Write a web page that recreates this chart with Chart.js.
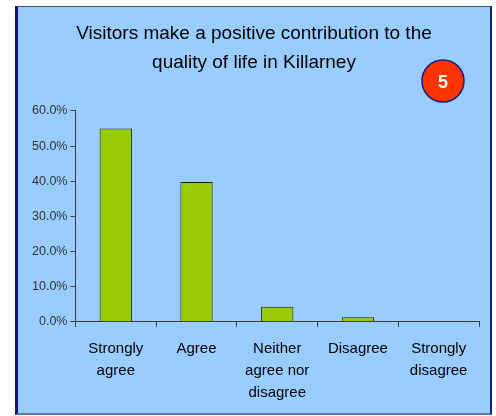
<!DOCTYPE html>
<html>
<head>
<meta charset="utf-8">
<script src="https://cdn.jsdelivr.net/npm/chart.js@4"></script>
<style>
  html, body { margin: 0; padding: 0; background: #ffffff; }
  #wrap { position: relative; width: 496px; height: 416px; }
  #panel {
    position: absolute; left: 15px; top: 6px; width: 472px; height: 406px;
    background: #99ccff;
    border-left: 3px solid #141478;
    border-right: 2px solid #1a1a80;
    border-top: 1px solid #4a4a6a;
    border-bottom: 2px solid #5a78b0;
  }
  canvas { position: absolute; left: 0; top: 0; }
</style>
</head>
<body>
<div id="wrap">
  <div id="panel"></div>
  <canvas id="chart" width="496" height="416"></canvas>
</div>
<script>
const categories = [
  ['Strongly', 'agree'],
  'Agree',
  ['Neither', 'agree nor', 'disagree'],
  'Disagree',
  ['Strongly', 'disagree']
];
const shares = [55.0, 39.8, 4.3, 1.3, 0.0];
const yTicks = [0, 10, 20, 30, 40, 50, 60];
const titleLines = ['Visitors make a positive contribution to the', 'quality of life in Killarney'];
const badgeText = '5';

const fontFamily = '"Liberation Sans", Arial, sans-serif';
const axisColor = '#3c3c3c';

// badge: red circle with the slide number
const badgePlugin = {
  id: 'badge',
  afterDraw(chart) {
    const ctx = chart.ctx;
    ctx.save();
    ctx.beginPath();
    ctx.arc(443, 81, 21, 0, Math.PI * 2);
    ctx.fillStyle = '#ff3300';
    ctx.fill();
    ctx.lineWidth = 1.5;
    ctx.strokeStyle = '#1a1a80';
    ctx.stroke();
    ctx.fillStyle = '#ffffff';
    ctx.font = 'bold 18px ' + fontFamily;
    ctx.textAlign = 'center';
    ctx.textBaseline = 'middle';
    ctx.fillText(badgeText, 443, 83);
    ctx.restore();
  }
};

window.addEventListener('DOMContentLoaded', () => {
  const ctx = document.getElementById('chart').getContext('2d');
  new Chart(ctx, {
    type: 'bar',
    data: {
      labels: categories,
      datasets: [{
        data: shares,
        backgroundColor: '#99cc00',
        borderColor: '#22220c',
        borderWidth: 1,
        barPercentage: 0.4,
        categoryPercentage: 1.0
      }]
    },
    options: {
      responsive: false,
      animation: false,
      layout: { padding: { left: 29, right: 17, top: 0, bottom: 1 } },
      plugins: {
        legend: { display: false },
        tooltip: { enabled: false },
        title: {
          display: true,
          text: titleLines,
          color: '#000000',
          font: { family: fontFamily, size: 19, weight: 'normal', lineHeight: 1.55 },
          padding: { top: 19, bottom: 33 }
        }
      },
      scales: {
        x: {
          grid: { drawOnChartArea: false, drawTicks: true, tickLength: 5, color: axisColor, offset: true },
          border: { display: true, color: axisColor, width: 1 },
          ticks: {
            color: '#000000',
            font: { family: fontFamily, size: 15, lineHeight: 1.47 },
            padding: 11,
            maxRotation: 0,
            autoSkip: false
          }
        },
        y: {
          min: 0,
          max: 60,
          afterBuildTicks(axis) { axis.ticks = yTicks.map(v => ({ value: v })); },
          grid: { drawOnChartArea: false, drawTicks: true, tickLength: 5, color: axisColor },
          border: { display: true, color: axisColor, width: 1 },
          ticks: {
            color: '#333333',
            font: { family: fontFamily, size: 12.5 },
            padding: 3,
            callback: v => v.toFixed(1) + '%'
          }
        }
      }
    },
    plugins: [badgePlugin]
  });
});
</script>
</body>
</html>
